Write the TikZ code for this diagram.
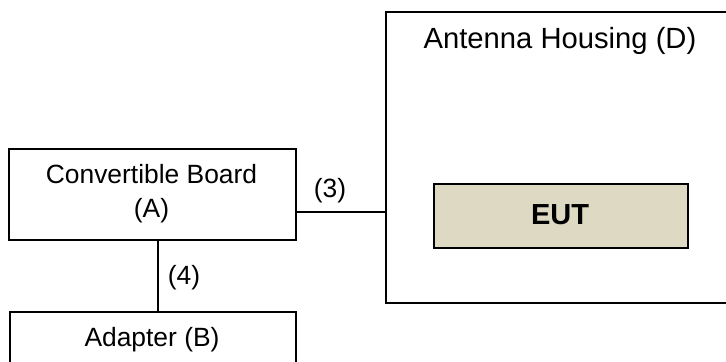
\documentclass[tikz,border=0pt]{standalone}
\usepackage{fontspec}
\setmainfont{Liberation Sans}
\definecolor{eutfill}{HTML}{DDD9C3}
\begin{document}
\begin{tikzpicture}[x=0.5pt,y=-0.5pt,
  box/.style={draw=black, line width=0.9pt, rectangle, inner sep=0pt},
  txt/.style={font=\fontsize{13.2}{17}\selectfont, align=center, inner sep=0pt},
  conn/.style={draw=black, line width=0.9pt}]
\useasboundingbox (0,0) rectangle (726,361);
\clip (0,0) rectangle (726,361);
% boxes
\node[box, minimum width=143.5pt, minimum height=45.5pt, anchor=north west] (A) at (8,148) {};
\node[txt] (At) at (151.5,194) {Convertible Board\\(A)};
\node[box, minimum width=143pt, minimum height=40pt, anchor=north west] (B) at (9,311) {};
\node[txt] (Bt) at (152,340) {Adapter (B)};
\node[box, minimum width=200pt, minimum height=145.5pt, anchor=north west] (D) at (385,11) {};
\node[txt, font=\fontsize{14.6}{17}\selectfont] (Dt) at (560,41) {Antenna Housing (D)};
\node[box, fill=eutfill, minimum width=127pt, minimum height=32pt, anchor=north west] (E) at (433,183) {};
\node[txt, font=\fontsize{14.5}{17}\selectfont\bfseries] (Et) at (560,215) {EUT};
% connectors
\coordinate (c3) at (340,212);
\coordinate (c4) at (158,275);
\draw[conn] (A.east |- c3) -- (D.west |- c3);
\draw[conn] (A.south -| c4) -- (B.north -| c4);
\node[txt] (l3) at (330,191) {(3)};
\node[txt] (l4) at (184,278) {(4)};
\end{tikzpicture}
\end{document}
